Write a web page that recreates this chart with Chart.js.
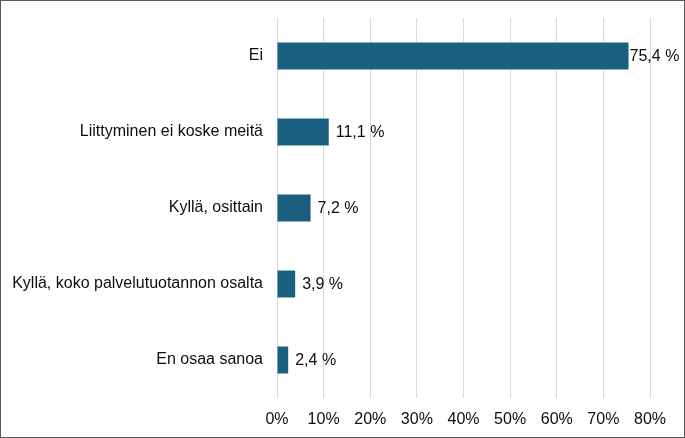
<!DOCTYPE html>
<html>
<head>
<meta charset="utf-8">
<script src="https://cdn.jsdelivr.net/npm/chart.js@4"></script>
<style>
  html, body { margin: 0; padding: 0; background: #fff; }
  #wrap {
    width: 685px; height: 438px;
    box-sizing: border-box;
    border: 1px solid #595959;
    position: relative;
  }
  canvas { display: block; }
</style>
</head>
<body>
<div id="wrap"><canvas id="chart" width="683" height="436"></canvas></div>
<script>
// ================= DATA =================
const categories = [
    "Ei",
    "Liittyminen ei koske meitä",
    "Kyllä, osittain",
    "Kyllä, koko palvelutuotannon osalta",
    "En osaa sanoa"
];
const values = [75.4, 11.1, 7.2, 3.9, 2.4];
const xTicks = [0, 10, 20, 30, 40, 50, 60, 70, 80];

const FONT = "'Liberation Sans', Arial, sans-serif";
const TEXT_COLOR = "#0d0d0d";

// value labels at the end of each bar
const barLabels = {
    id: "barLabels",
    afterDatasetsDraw(chart) {
        const ctx = chart.ctx;
        const meta = chart.getDatasetMeta(0);
        ctx.save();
        ctx.font = "16px " + FONT;
        ctx.fillStyle = TEXT_COLOR;
        ctx.textBaseline = "middle";
        ctx.textAlign = "left";
        meta.data.forEach((bar, i) => {
            const text = values[i].toFixed(1).replace(".", ",") + " %";
            const w = ctx.measureText(text).width;
            let x = bar.x + 7;
            const maxX = chart.width - 5 - w;
            if (x > maxX) x = Math.max(bar.x + 1, maxX);
            ctx.fillText(text, x, bar.y + 1);
        });
        ctx.restore();
    }
};

const ctx = document.getElementById("chart").getContext("2d");
new Chart(ctx, {
    type: "bar",
    data: {
        labels: categories,
        datasets: [{
            data: values,
            backgroundColor: "#1a5e80",
            borderWidth: 0,
            categoryPercentage: 1,
            barPercentage: 0.355
        }]
    },
    plugins: [barLabels],
    options: {
        indexAxis: "y",
        responsive: false,
        animation: false,
        layout: { padding: { top: 17, right: 34, bottom: 0, left: 0 } },
        plugins: {
            legend: { display: false },
            tooltip: { enabled: false }
        },
        scales: {
            x: {
                min: 0,
                max: 80,
                afterBuildTicks(scale) {
                    scale.ticks = xTicks.map(v => ({ value: v }));
                },
                afterFit(scale) {
                    scale.height = 39;
                    scale.paddingLeft = 0;
                    scale.paddingRight = 0;
                },
                grid: { color: "#d9d9d9", lineWidth: 1, drawTicks: false },
                border: { display: false },
                ticks: {
                    padding: 12,
                    color: TEXT_COLOR,
                    font: { family: FONT, size: 16 },
                    callback: v => v + "%"
                }
            },
            y: {
                afterFit(scale) {
                    scale.width = 276;
                    scale.paddingTop = 0;
                    scale.paddingBottom = 0;
                },
                grid: { display: false, drawTicks: false },
                border: { display: false },
                ticks: {
                    padding: 14,
                    color: TEXT_COLOR,
                    font: { family: FONT, size: 16 }
                }
            }
        }
    }
});
</script>
</body>
</html>
